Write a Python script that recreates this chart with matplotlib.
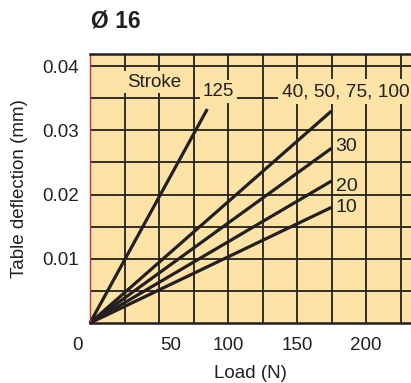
import matplotlib.pyplot as plt
from matplotlib.transforms import ScaledTranslation

# stroke curves: straight lines from the origin to the end point
strokes = ['125', '40, 50, 75, 100', '30', '20', '10']
end_load = [85, 175, 175, 175, 175]          # N
end_defl = [0.0333, 0.0330, 0.0272, 0.0221, 0.0180]  # mm

x_ticks = [0, 50, 100, 150, 200]
y_ticks = [0.01, 0.02, 0.03, 0.04]

bg = '#fee3a6'
ink = '#231f20'

plt.rcParams['font.family'] = ['Liberation Sans', 'DejaVu Sans']

fig = plt.figure(figsize=(4.11, 3.83), dpi=100)
ax = fig.add_axes([90 / 411, 60 / 383, 321 / 411, 269 / 383])
ax.set_facecolor(bg)

ax.set_xlim(0, 232.6)
ax.set_ylim(0, 0.04187)

# grid every 25 N and 0.005 mm
ax.set_xticks(range(25, 250, 25), minor=True)
ax.set_yticks([0.005 * i for i in range(1, 9)], minor=True)
ax.grid(which='both', color=ink, lw=1.3)
ax.tick_params(which='minor', length=0)

ax.set_xticks(x_ticks)
ax.set_xticklabels([str(v) for v in x_ticks])
ax.set_yticks(y_ticks)
ax.set_yticklabels([f'{v:.2f}' for v in y_ticks])
ax.tick_params(which='major', length=0, labelsize=13.5, colors=ink, pad=8)
ax.tick_params(axis='x', pad=10)

# the printed chart sets the first two load labels a bit off their grid lines
xl = ax.get_xticklabels()
xl[0].set_transform(xl[0].get_transform() + ScaledTranslation(-13 / 100, 0, fig.dpi_scale_trans))
xl[1].set_transform(xl[1].get_transform() + ScaledTranslation(12 / 100, 0, fig.dpi_scale_trans))

ax.spines['right'].set_visible(False)
ax.spines['left'].set_color('#d42a2a')
ax.spines['left'].set_linewidth(1.0)
ax.spines['bottom'].set_color(ink)
ax.spines['bottom'].set_linewidth(1.8)
ax.spines['top'].set_color(ink)
ax.spines['top'].set_linewidth(1.8)
ax.set_axisbelow(True)

for load, defl in zip(end_load, end_defl):
    ax.plot([0, load], [0, defl], color=ink, lw=2.3, solid_capstyle='butt', clip_on=False)

box = dict(facecolor=bg, edgecolor='none', pad=2)
ax.text(46.4, 0.0375, 'Stroke', fontsize=13.5, color=ink, ha='center', va='center', bbox=box)
ax.text(92.8, 0.0360, strokes[0], fontsize=13.5, color=ink, ha='center', va='center', bbox=box)
ax.text(139, 0.0360, strokes[1], fontsize=13.8, color=ink, ha='left', va='center',
        bbox=dict(facecolor=bg, edgecolor='none', pad=3), clip_on=False)
for lbl, defl in zip(strokes[2:], [0.0274, 0.0213, 0.0179]):
    ax.text(178, defl, lbl, fontsize=14, color=ink, ha='left', va='center')

ax.set_xlabel('Load (N)', fontsize=13.5, color=ink, labelpad=8)
ax.set_ylabel('Table deflection (mm)', fontsize=13.5, color=ink, labelpad=10)

fig.text(91 / 411, 1 - 21 / 383, 'Ø 16', fontsize=16.5, fontweight='bold', color=ink,
         ha='left', va='center')

fig.savefig('out.png', dpi=100)
